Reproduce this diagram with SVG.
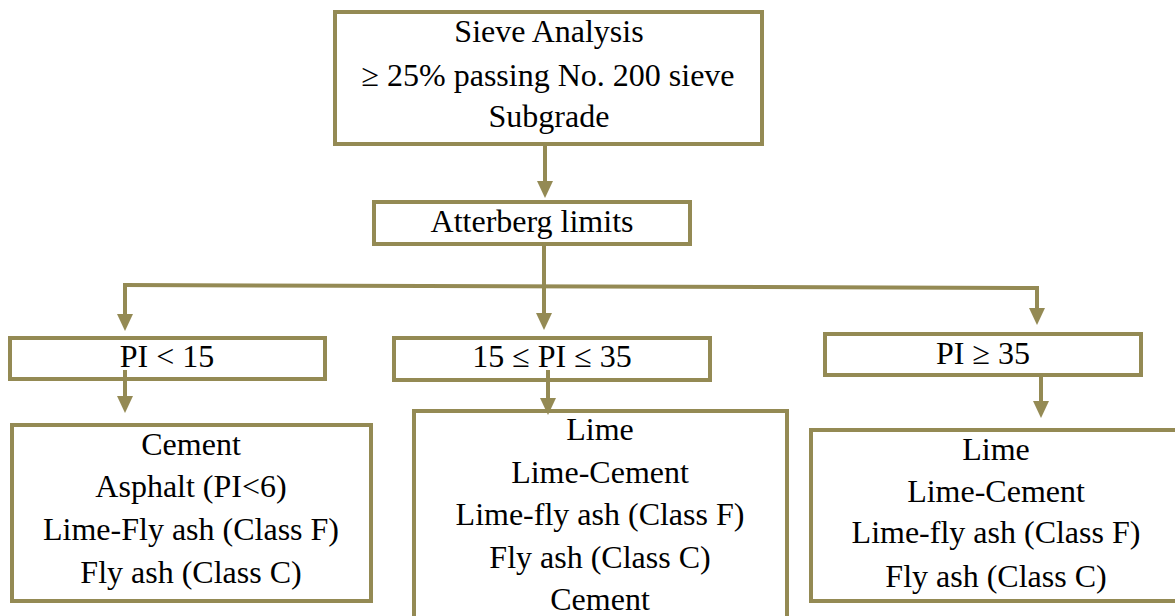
<svg xmlns="http://www.w3.org/2000/svg" width="1175" height="616" viewBox="0 0 1175 616">
<defs>
<style>
.box{fill:#ffffff;stroke:#948a54;stroke-width:4}
.conn{fill:none;stroke:#948a54;stroke-width:4}
.t{font-family:"Liberation Serif","Times New Roman",serif;font-size:32px;fill:#000;text-anchor:middle}
</style>
<marker id="ah" markerUnits="userSpaceOnUse" markerWidth="18" markerHeight="18" refX="9" refY="8" orient="auto" viewBox="0 0 18 16">
<path d="M0,0 L17,8 L0,16 z" fill="#948a54"/>
</marker>
</defs>
<rect width="1175" height="616" fill="#ffffff"/>
<g id="connectors">
<line class="conn" x1="545" y1="146" x2="545" y2="190" marker-end="url(#ah)"/>
<polyline class="conn" points="544,244 544,322" marker-end="url(#ah)"/>
<line class="conn" x1="123" y1="285" x2="1039" y2="288"/>
<polyline class="conn" points="125,285 125,323" marker-end="url(#ah)"/>
<polyline class="conn" points="1037,288 1037,317" marker-end="url(#ah)"/>
</g>
<g id="sieve">
<rect class="box" x="335" y="12" width="427" height="132"/>
<text class="t" font-family="Liberation Serif, serif" x="549" y="42">Sieve Analysis</text>
<text class="t" font-family="Liberation Serif, serif" x="548" y="86">≥ 25% passing No. 200 sieve</text>
<text class="t" font-family="Liberation Serif, serif" x="549" y="127">Subgrade</text>
</g>
<g id="atterberg">
<rect class="box" x="374" y="202" width="316" height="42"/>
<text class="t" font-family="Liberation Serif, serif" x="532" y="232">Atterberg limits</text>
</g>
<g id="pi-low">
<rect class="box" x="10" y="338" width="315" height="41"/>
<text class="t" font-family="Liberation Serif, serif" x="167" y="367">PI &lt; 15</text>
</g>
<g id="pi-mid">
<rect class="box" x="394" y="338" width="316" height="42"/>
<text class="t" font-family="Liberation Serif, serif" x="552" y="367">15 ≤ PI ≤ 35</text>
</g>
<g id="pi-high">
<rect class="box" x="825" y="334" width="316" height="41"/>
<text class="t" font-family="Liberation Serif, serif" x="983" y="364">PI ≥ 35</text>
</g>
<g id="res-low">
<rect class="box" x="12" y="425" width="359" height="176"/>
<text class="t" font-family="Liberation Serif, serif" x="191" y="455">Cement</text>
<text class="t" font-family="Liberation Serif, serif" x="191" y="497">Asphalt (PI&lt;6)</text>
<text class="t" font-family="Liberation Serif, serif" x="191" y="540">Lime-Fly ash (Class F)</text>
<text class="t" font-family="Liberation Serif, serif" x="191" y="583">Fly ash (Class C)</text>
</g>
<g id="res-mid">
<rect class="box" x="414" y="411" width="373" height="230"/>
<text class="t" font-family="Liberation Serif, serif" x="600" y="440">Lime</text>
<text class="t" font-family="Liberation Serif, serif" x="600" y="483">Lime-Cement</text>
<text class="t" font-family="Liberation Serif, serif" x="600" y="525">Lime-fly ash (Class F)</text>
<text class="t" font-family="Liberation Serif, serif" x="600" y="568">Fly ash (Class C)</text>
<text class="t" font-family="Liberation Serif, serif" x="600" y="610">Cement</text>
</g>
<g id="res-high">
<rect class="box" x="811" y="430" width="380" height="171"/>
<text class="t" font-family="Liberation Serif, serif" x="996" y="460">Lime</text>
<text class="t" font-family="Liberation Serif, serif" x="996" y="502">Lime-Cement</text>
<text class="t" font-family="Liberation Serif, serif" x="996" y="543">Lime-fly ash (Class F)</text>
<text class="t" font-family="Liberation Serif, serif" x="996" y="587">Fly ash (Class C)</text>
</g>
<g id="arrows-down">
<polyline class="conn" points="125,370 125,405" marker-end="url(#ah)"/>
<polyline class="conn" points="548,370 548,407" marker-end="url(#ah)"/>
<polyline class="conn" points="1041,377 1041,410" marker-end="url(#ah)"/>
</g>
</svg>
